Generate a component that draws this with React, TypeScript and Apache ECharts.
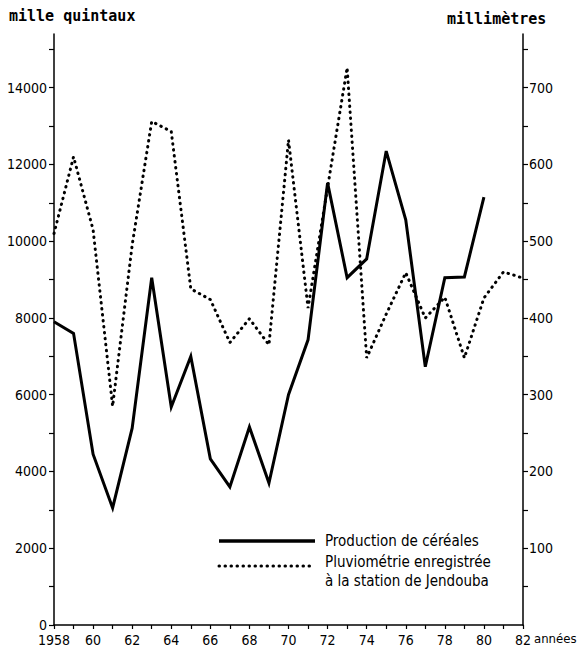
import React, { useEffect, useRef } from "react";
import * as echarts from "echarts";

const years = [1958, 1959, 1960, 1961, 1962, 1963, 1964, 1965, 1966, 1967, 1968, 1969, 1970, 1971, 1972, 1973, 1974, 1975, 1976, 1977, 1978, 1979, 1980, 1981, 1982];
// Production de céréales (mille quintaux), 1958–1980
const production = [7900, 7600, 4450, 3050, 5130, 9050, 5680, 7000, 4330, 3600, 5160, 3700, 6000, 7430, 11520, 9050, 9540, 12350, 10560, 6730, 9050, 9070, 11150];
// Pluviométrie (millimètres), 1958–1982
const rainfall = [510, 610, 515, 285, 495, 656, 643, 438, 424, 368, 399, 365, 632, 413, 570, 726, 348, 405, 459, 400, 427, 348, 426, 460, 452];

const leftTicks = [0, 1000, 2000, 3000, 4000, 5000, 6000, 7000, 8000, 9000, 10000, 11000, 12000, 13000, 14000, 15000];
const leftLabels = [0, 2000, 4000, 6000, 8000, 10000, 12000, 14000];
const rightTicks = [50, 100, 150, 200, 250, 300, 350, 400, 450, 500, 550, 600, 650, 700, 750];
const rightLabels = [100, 200, 300, 400, 500, 600, 700];

const FONT = "'DejaVu Sans Condensed', 'Liberation Sans Narrow', 'DejaVu Sans', sans-serif";
const MONO = "'DejaVu Sans Mono', monospace";

export default function App() {
  const ref = useRef<HTMLDivElement>(null);
  useEffect(() => {
    if (!ref.current) return;
    const chart = echarts.init(ref.current, undefined, { renderer: "svg" });
    const axisLine = { show: true, lineStyle: { color: "#000", width: 1.5 } };
    const plain = (v: number) => String(v);
    chart.setOption({
      animation: false,
      backgroundColor: "#fff",
      grid: { left: 54, right: 58, top: 34, bottom: 29 },
      xAxis: {
        type: "value",
        min: 1958,
        max: 1982,
        interval: 1,
        axisLine,
        axisTick: { show: true, inside: false, length: 4, lineStyle: { color: "#000", width: 1.2 } },
        splitLine: { show: false },
        axisLabel: {
          margin: 8,
          color: "#000",
          fontFamily: FONT,
          fontSize: 14,
          formatter: (v: number) => (v % 2 !== 0 ? "" : v === 1958 ? "1958" : String(v % 100)),
        },
      },
      yAxis: [
        {
          type: "value",
          min: 0,
          max: 15400,
          position: "left",
          axisLine,
          axisTick: { show: true, length: 5, customValues: leftTicks, lineStyle: { color: "#000", width: 1.2 } },
          splitLine: { show: false },
          axisLabel: { customValues: leftLabels, margin: 7, color: "#000", fontFamily: FONT, fontSize: 14, formatter: plain },
        },
        {
          type: "value",
          min: 0,
          max: 770,
          position: "right",
          axisLine,
          axisTick: { show: true, length: 5, customValues: rightTicks, lineStyle: { color: "#000", width: 1.2 } },
          splitLine: { show: false },
          axisLabel: { customValues: rightLabels, margin: 6, color: "#000", fontFamily: FONT, fontSize: 14, formatter: plain },
        },
      ],
      series: [
        {
          name: "Pluviométrie",
          type: "line",
          yAxisIndex: 1,
          symbol: "none",
          data: years.map((y, i) => [y, rainfall[i]]),
          lineStyle: { color: "#000", width: 3, type: [0.5, 5.5], cap: "round" },
        },
        {
          name: "Production",
          type: "line",
          yAxisIndex: 0,
          symbol: "none",
          data: production.map((v, i) => [years[i], v]),
          lineStyle: { color: "#000", width: 3, join: "miter" },
        },
      ],
      graphic: [
        { type: "text", left: 9, top: 8, style: { text: "mille quintaux", font: `bold 15px ${MONO}`, fill: "#000" } },
        { type: "text", left: 447, top: 11, style: { text: "millimètres", font: `bold 15px ${MONO}`, fill: "#000" } },
        { type: "text", left: 534, top: 632, style: { text: "années", font: `13px ${FONT}`, fill: "#000" } },
        { type: "line", shape: { x1: 219, y1: 541, x2: 315, y2: 541 }, style: { stroke: "#000", lineWidth: 3.5 } },
        { type: "text", left: 325, top: 533, style: { text: "Production de céréales", font: `15px ${FONT}`, fill: "#000" } },
        { type: "line", shape: { x1: 219, y1: 566, x2: 315, y2: 566 }, style: { stroke: "#000", lineWidth: 3, lineDash: [0.5, 5.5], lineCap: "round" } },
        { type: "text", left: 325, top: 554, style: { text: "Pluviométrie enregistrée", font: `15px ${FONT}`, fill: "#000" } },
        { type: "text", left: 325, top: 573, style: { text: "à la station de Jendouba", font: `15px ${FONT}`, fill: "#000" } },
      ],
    });
    return () => chart.dispose();
  }, []);
  return <div ref={ref} style={{ position: "absolute", left: 0, top: 0, width: 581, height: 654 }} />;
}
